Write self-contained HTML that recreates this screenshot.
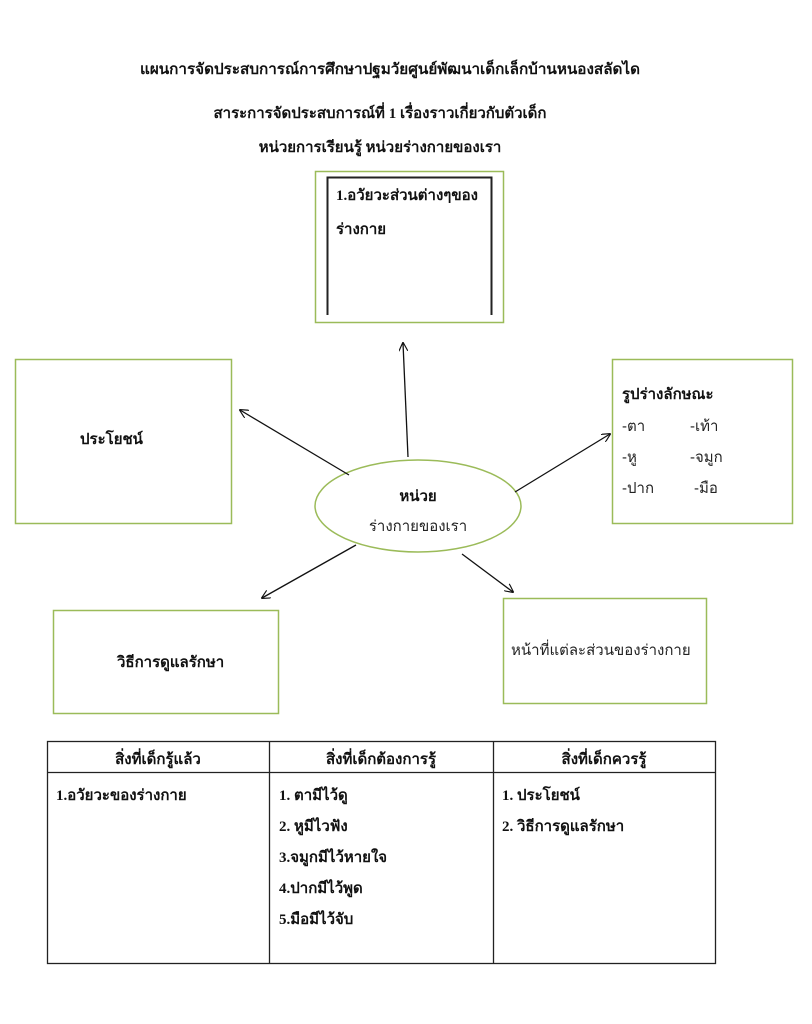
<!DOCTYPE html>
<html><head><meta charset="utf-8"><style>
html,body{margin:0;padding:0;background:#fff}
svg{display:block}
.s{font-family:"Liberation Serif","DejaVu Serif",serif;font-weight:bold;font-size:15px;fill:#111}
.n{font-family:"Liberation Sans","DejaVu Sans",sans-serif;font-size:15px;fill:#222}
</style></head><body>
<svg width="812" height="1024" viewBox="0 0 812 1024" xmlns="http://www.w3.org/2000/svg">
<defs><marker id="a" viewBox="0 0 10 10" refX="9" refY="5" markerWidth="9" markerHeight="9" orient="auto" markerUnits="userSpaceOnUse"><path d="M0,0 L10,5 L0,10" fill="none" stroke="#111" stroke-width="1.3"/></marker></defs>
<text class="s" x="390" y="74" text-anchor="middle" textLength="500" lengthAdjust="spacingAndGlyphs">แผนการจัดประสบการณ์การศึกษาปฐมวัยศูนย์พัฒนาเด็กเล็กบ้านหนองสลัดได</text>
<text class="s" x="380" y="118" text-anchor="middle">สาระการจัดประสบการณ์ที่ 1 เรื่องราวเกี่ยวกับตัวเด็ก</text>
<text class="s" x="380" y="152" text-anchor="middle">หน่วยการเรียนรู้  หน่วยร่างกายของเรา</text>
<g fill="none" stroke="#9bbb59" stroke-width="1.5">
<rect x="315.5" y="171.5" width="188" height="151"/>
<rect x="15.5" y="359.5" width="216" height="164"/>
<rect x="612.5" y="359.5" width="180" height="164"/>
<rect x="53.5" y="610.5" width="225" height="103"/>
<rect x="503.5" y="598.5" width="203" height="105"/>
<ellipse cx="418" cy="506" rx="103" ry="46"/>
</g>
<path d="M327.5,315 V177.5 H491.5 V315" fill="none" stroke="#222" stroke-width="2"/>
<text class="s" x="336" y="200">1.อวัยวะส่วนต่างๆของ</text>
<text class="s" x="336" y="234">ร่างกาย</text>
<text class="s" x="80" y="444">ประโยชน์</text>
<text class="s" x="622" y="399">รูปร่างลักษณะ</text>
<text class="n" x="622" y="431">-ตา</text><text class="n" x="690" y="431">-เท้า</text>
<text class="n" x="622" y="462">-หู</text><text class="n" x="690" y="462">-จมูก</text>
<text class="n" x="622" y="493">-ปาก</text><text class="n" x="694" y="493">-มือ</text>
<text class="s" x="418" y="501" text-anchor="middle">หน่วย</text>
<text class="n" x="418" y="531" text-anchor="middle" font-size="16">ร่างกายของเรา</text>
<text class="s" x="117" y="667">วิธีการดูแลรักษา</text>
<text class="n" x="511" y="655">หน้าที่แต่ละส่วนของร่างกาย</text>
<g stroke="#111" stroke-width="1.3" marker-end="url(#a)">
<line x1="408" y1="457" x2="403" y2="343"/>
<line x1="349" y1="475" x2="240" y2="410"/>
<line x1="515" y1="492" x2="610" y2="434"/>
<line x1="356" y1="545" x2="262" y2="598"/>
<line x1="462" y1="554" x2="513" y2="592"/>
</g>
<g fill="none" stroke="#222" stroke-width="1.3">
<rect x="47.5" y="741.5" width="668" height="222"/>
<line x1="47" y1="772.5" x2="715" y2="772.5"/>
<line x1="269.5" y1="741" x2="269.5" y2="963"/>
<line x1="493.5" y1="741" x2="493.5" y2="963"/>
</g>
<text class="s" x="158" y="764" text-anchor="middle">สิ่งที่เด็กรู้แล้ว</text>
<text class="s" x="381" y="764" text-anchor="middle">สิ่งที่เด็กต้องการรู้</text>
<text class="s" x="604" y="764" text-anchor="middle">สิ่งที่เด็กควรรู้</text>
<text class="s" x="56" y="800">1.อวัยวะของร่างกาย</text>
<text class="s" x="279" y="800">1. ตามีไว้ดู</text>
<text class="s" x="279" y="831">2. หูมีไวฟัง</text>
<text class="s" x="279" y="862">3.จมูกมีไว้หายใจ</text>
<text class="s" x="279" y="893">4.ปากมีไว้พูด</text>
<text class="s" x="279" y="924">5.มือมีไว้จับ</text>
<text class="s" x="502" y="800">1. ประโยชน์</text>
<text class="s" x="502" y="831">2. วิธีการดูแลรักษา</text>
</svg>
</body></html>
